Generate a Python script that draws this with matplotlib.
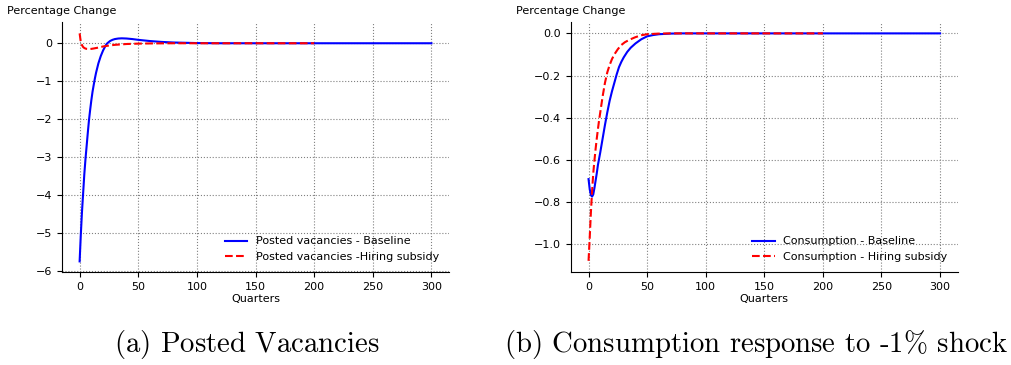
import matplotlib
matplotlib.use("Agg")
import matplotlib.pyplot as plt

plt.rcParams["mathtext.fontset"] = "cm"

# ----------------------------------------------------------------------
# Data (quarters, percentage change)
# ----------------------------------------------------------------------
vac_base_q = [0, 1, 2, 3, 4, 5, 6, 7, 8, 9, 10, 11, 12, 13, 14, 16, 18, 20,
              22, 23, 24, 26, 28, 30, 33, 36, 40, 45, 50, 60, 70, 80, 100,
              120, 300]
vac_base = [-5.75, -5.05, -4.45, -3.95, -3.45, -3.05, -2.70, -2.35, -2.02,
            -1.75, -1.50, -1.28, -1.10, -0.93, -0.78, -0.53, -0.34, -0.19,
            -0.07, -0.02, 0.01, 0.06, 0.09, 0.11, 0.125, 0.13, 0.125, 0.11,
            0.09, 0.058, 0.035, 0.02, 0.005, 0.0, 0.0]

vac_sub_q = [0, 1, 2, 3, 4, 5, 6, 8, 10, 12, 15, 20, 25, 30, 40, 50, 60,
             80, 200]
vac_sub = [0.26, 0.03, -0.05, -0.10, -0.125, -0.14, -0.148, -0.152, -0.148,
           -0.138, -0.12, -0.085, -0.06, -0.042, -0.02, -0.01, -0.005, 0.0,
           0.0]

con_base_q = [0, 1, 2, 3, 4, 5, 6, 7, 8, 9, 10, 12, 14, 16, 18, 20, 22, 24,
              26, 28, 30, 33, 36, 40, 45, 50, 55, 60, 70, 80, 300]
con_base = [-0.692, -0.74, -0.768, -0.775, -0.765, -0.735, -0.70, -0.665,
            -0.625, -0.595, -0.565, -0.50, -0.435, -0.375, -0.32, -0.275,
            -0.235, -0.195, -0.16, -0.135, -0.114, -0.088, -0.068, -0.048,
            -0.028, -0.014, -0.008, -0.004, -0.001, 0.0, 0.0]

con_sub_q = [0, 1, 2, 3, 4, 5, 6, 7, 8, 9, 10, 12, 14, 16, 18, 20, 22, 25,
             28, 31, 35, 40, 45, 50, 60, 70, 200]
con_sub = [-1.08, -0.97, -0.85, -0.75, -0.665, -0.605, -0.55, -0.50,
           -0.455, -0.412, -0.375, -0.30, -0.235, -0.185, -0.15, -0.122,
           -0.10, -0.075, -0.055, -0.042, -0.03, -0.018, -0.009, -0.004,
           -0.001, 0.0, 0.0]

x_ticks = [0, 50, 100, 150, 200, 250, 300]

# ----------------------------------------------------------------------
# Figure
# ----------------------------------------------------------------------
fig = plt.figure(figsize=(10.12, 3.65), dpi=100)
ax1 = fig.add_axes([0.0613, 0.2548, 0.3824, 0.6849])
ax2 = fig.add_axes([0.5642, 0.2548, 0.3821, 0.6849])

panels = [
    (ax1, vac_base_q, vac_base, vac_sub_q, vac_sub,
     "Posted vacancies - Baseline", "Posted vacancies -Hiring subsidy",
     (-6.03, 0.56), [0, -1, -2, -3, -4, -5, -6], "%d"),
    (ax2, con_base_q, con_base, con_sub_q, con_sub,
     "Consumption - Baseline", "Consumption - Hiring subsidy",
     (-1.133, 0.054), [0.0, -0.2, -0.4, -0.6, -0.8, -1.0], "%.1f"),
]

for ax, bq, bv, sq, sv, lab_b, lab_s, ylim, yticks, fmt in panels:
    ax.plot(bq, bv, "-", color="blue", linewidth=1.5, label=lab_b)
    ax.plot(sq, sv, "--", color="red", linewidth=1.5, label=lab_s)
    ax.set_xlim(-15, 315)
    ax.set_ylim(*ylim)
    ax.set_xticks(x_ticks)
    ax.set_yticks(yticks)
    ax.set_yticklabels([(fmt % v).replace("-", "\u2212") for v in yticks])
    ax.tick_params(labelsize=8)
    ax.grid(True, color="gray", linestyle=":", linewidth=0.8)
    ax.spines["top"].set_visible(False)
    ax.spines["right"].set_visible(False)
    ax.set_xlabel("Quarters", fontsize=8, labelpad=2)
    ax.legend(loc="lower right", frameon=False, fontsize=8)

fig.text(7 / 1012, 1 - 11 / 365, "Percentage Change", fontsize=8, va="center")
fig.text(516 / 1012, 1 - 11 / 365, "Percentage Change", fontsize=8, va="center")

fig.text(247 / 1012, 0.055, r"$\text{(a) Posted Vacancies}$", fontsize=20.7,
         ha="center", va="center")
fig.text(756 / 1012, 0.055, r"$\text{(b) Consumption response to -1\% shock}$",
         fontsize=20.7, ha="center", va="center")

plt.savefig("out.png", dpi=100)
